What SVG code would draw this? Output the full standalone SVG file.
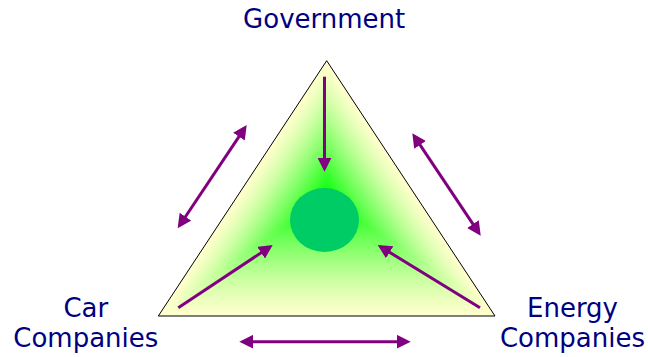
<svg xmlns="http://www.w3.org/2000/svg" xmlns:xlink="http://www.w3.org/1999/xlink" width="648" height="357" viewBox="0 0 648 357">
<style>
.lbl{font-family:"DejaVu Sans","Verdana",sans-serif;font-size:26px;fill:#000080;text-anchor:middle}
.arr{stroke:#800080;stroke-width:3;fill:none}
</style>
<defs>
<path id="tri" d="M0.2,-136.3 L-168.2,119 L168.5,119 Z"/>
<clipPath id="triclip"><path d="M326.7,60.7 L158.3,316 L495,316 Z"/></clipPath>
<filter id="blur" x="-10%" y="-10%" width="120%" height="120%"><feGaussianBlur stdDeviation="2.5"/></filter>
<marker id="ah" viewBox="0 0 14 14" refX="10" refY="7" markerWidth="14" markerHeight="14" markerUnits="userSpaceOnUse" orient="auto-start-reverse">
<path d="M0,0 L14,7 L0,14 Z" fill="#800080"/>
</marker>
</defs>
<g id="triangle">
<rect x="150" y="55" width="350" height="265" fill="#FFFFCC" clip-path="url(#triclip)"/>
<g clip-path="url(#triclip)">
<g filter="url(#blur)">
<use xlink:href="#tri" transform="translate(326.5,197) scale(1.00)" fill="#FFFFCC"/>
<use xlink:href="#tri" transform="translate(326.5,197) scale(0.95)" fill="#F6FFC5"/>
<use xlink:href="#tri" transform="translate(326.5,197) scale(0.90)" fill="#EDFFBE"/>
<use xlink:href="#tri" transform="translate(326.5,197) scale(0.85)" fill="#E4FFB7"/>
<use xlink:href="#tri" transform="translate(326.5,197) scale(0.80)" fill="#DBFFAF"/>
<use xlink:href="#tri" transform="translate(326.5,197) scale(0.75)" fill="#D0FFA6"/>
<use xlink:href="#tri" transform="translate(326.5,197) scale(0.70)" fill="#C4FF9D"/>
<use xlink:href="#tri" transform="translate(326.5,197) scale(0.65)" fill="#B8FF93"/>
<use xlink:href="#tri" transform="translate(326.5,197) scale(0.60)" fill="#ABFF89"/>
<use xlink:href="#tri" transform="translate(326.5,197) scale(0.55)" fill="#9DFF7D"/>
<use xlink:href="#tri" transform="translate(326.5,197) scale(0.50)" fill="#8FFF72"/>
<use xlink:href="#tri" transform="translate(326.5,197) scale(0.45)" fill="#81FF67"/>
<use xlink:href="#tri" transform="translate(326.5,197) scale(0.40)" fill="#73FF5C"/>
<use xlink:href="#tri" transform="translate(326.5,197) scale(0.35)" fill="#63FF50"/>
<use xlink:href="#tri" transform="translate(326.5,197) scale(0.30)" fill="#54FF43"/>
<use xlink:href="#tri" transform="translate(326.5,197) scale(0.25)" fill="#44FF36"/>
<use xlink:href="#tri" transform="translate(326.5,197) scale(0.20)" fill="#33FF29"/>
<use xlink:href="#tri" transform="translate(326.5,197) scale(0.15)" fill="#24FF1D"/>
<use xlink:href="#tri" transform="translate(326.5,197) scale(0.10)" fill="#14FF10"/>
<use xlink:href="#tri" transform="translate(326.5,197) scale(0.05)" fill="#08FF06"/>
</g>
</g>
<path d="M326.7,60.7 L158.3,316 L495,316 Z" fill="none" stroke="#000000" stroke-width="1"/>
</g>
<g id="center">
<ellipse cx="324.5" cy="220" rx="34.5" ry="32" fill="#00CC66"/>
</g>
<g id="labels">
<g id="government"><text class="lbl" x="324.2" y="28">Government</text></g>
<g id="car"><text class="lbl" x="85.8" y="316.5">Car</text><text class="lbl" x="85.8" y="346.5">Companies</text></g>
<g id="energy"><text class="lbl" x="572.5" y="316.5">Energy</text><text class="lbl" x="572.5" y="346.5">Companies</text></g>
</g>
<g id="connectors">
<line class="arr" x1="324.5" y1="76.7" x2="324.5" y2="167.7" marker-end="url(#ah)"/>
<line class="arr" x1="178.3" y1="307.7" x2="269.4" y2="247.2" marker-end="url(#ah)"/>
<line class="arr" x1="480" y1="307.7" x2="381.1" y2="247.1" marker-end="url(#ah)"/>
<line class="arr" x1="179.9" y1="225.0" x2="244.5" y2="128.3" marker-start="url(#ah)" marker-end="url(#ah)"/>
<line class="arr" x1="414.5" y1="136.6" x2="478.5" y2="232.4" marker-start="url(#ah)" marker-end="url(#ah)"/>
<line class="arr" x1="243.3" y1="341.7" x2="406.7" y2="341.7" marker-start="url(#ah)" marker-end="url(#ah)"/>
</g>
</svg>
